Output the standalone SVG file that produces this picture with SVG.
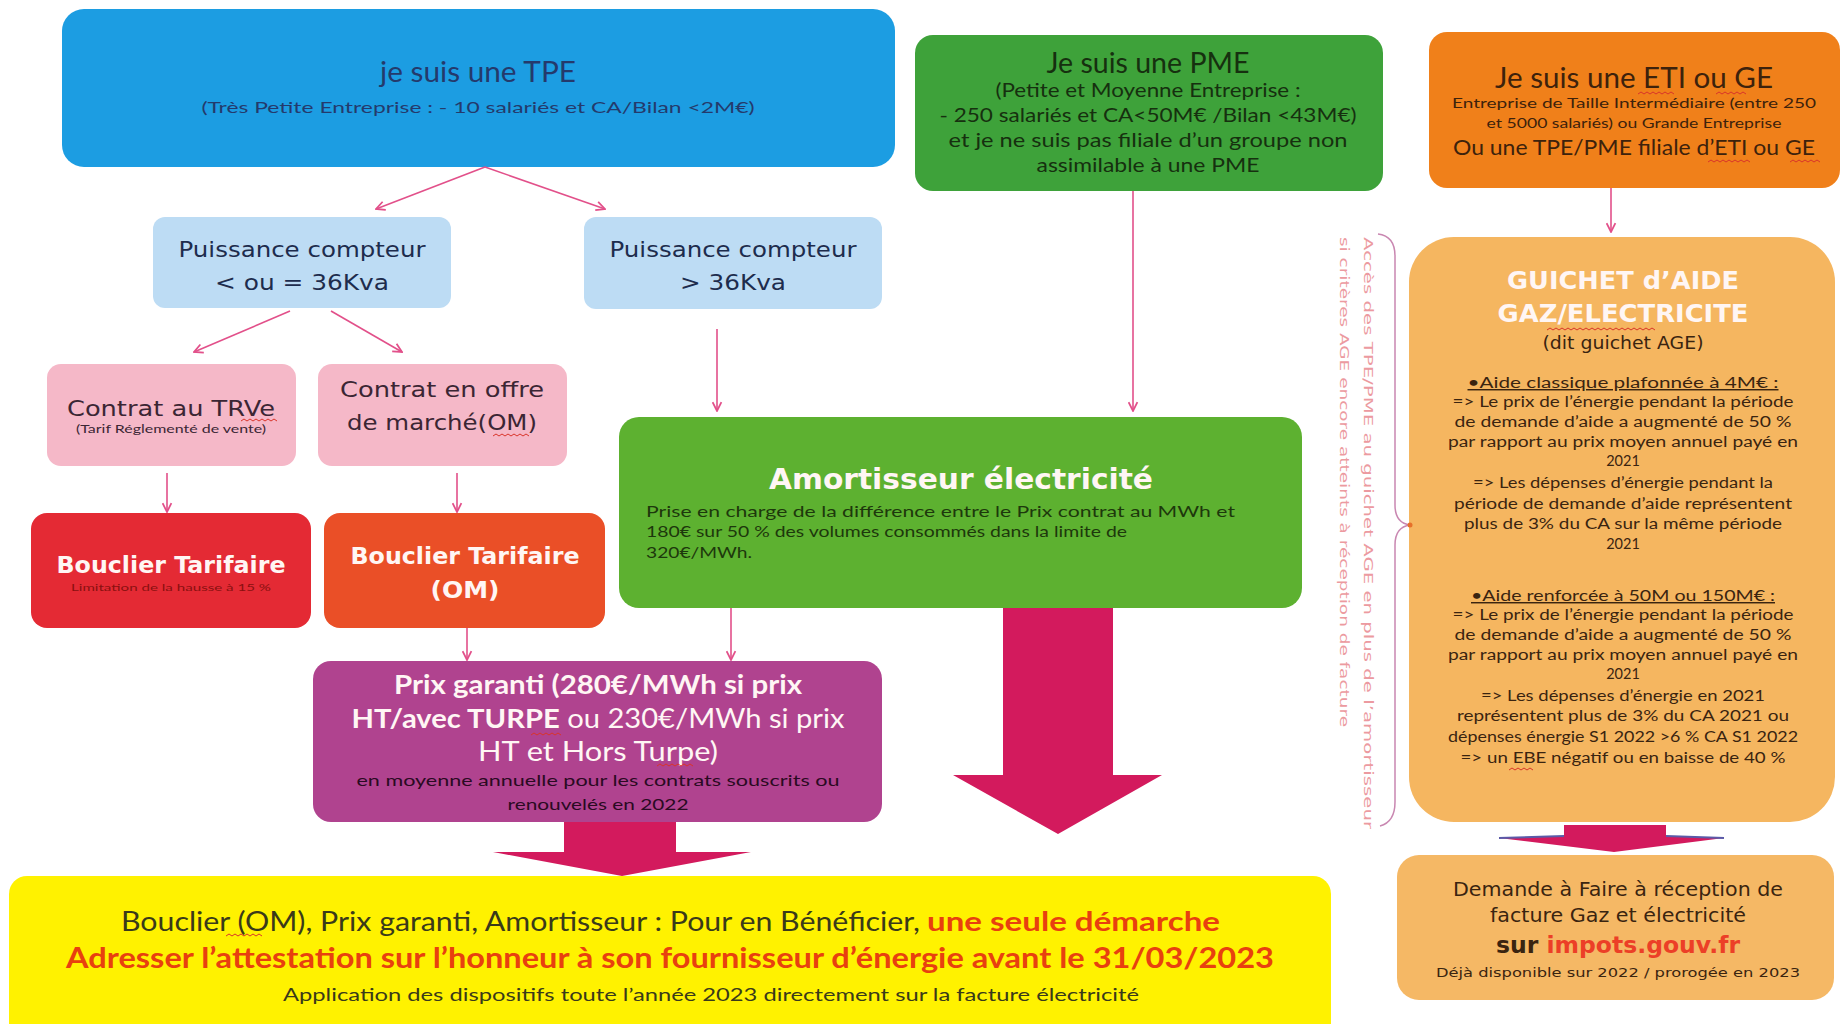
<svg xmlns="http://www.w3.org/2000/svg" width="1841" height="1024" viewBox="0 0 1841 1024">
<defs>
<style>
text{font-family:Lato,"Open Sans","Liberation Sans",sans-serif;}
.dv{font-family:"DejaVu Sans","Open Sans",sans-serif;}
.os{font-family:"Open Sans",sans-serif;}
.c{text-anchor:middle;}
.b{font-weight:700;}
.w{fill:#fff6f4;}
.thin{stroke:#e2508a;stroke-width:1.6;fill:none;}
.big{fill:#d31a5d;}
.sq{stroke:#d9342a;stroke-width:1;fill:none;}
</style>
<marker id="ah" viewBox="0 0 10 10" refX="9" refY="5" markerWidth="11" markerHeight="11" markerUnits="userSpaceOnUse" orient="auto">
<path d="M1,1 L9,5 L1,9" fill="none" stroke="#e2508a" stroke-width="1.6"/>
</marker>
</defs>
<rect width="1841" height="1024" fill="#ffffff"/>

<g id="tpe">
<rect x="62" y="9" width="833" height="158" rx="22" fill="#1c9de2"/>
<text x="478" y="82" class="c" font-size="29" fill="#243a6c" textLength="196" lengthAdjust="spacingAndGlyphs">je suis une TPE</text>
<text x="478" y="113" class="c" font-size="16" fill="#243a6c" textLength="553" lengthAdjust="spacingAndGlyphs">(Très Petite Entreprise : - 10 salariés et CA/Bilan &lt;2M€)</text>
</g>

<g id="pme">
<rect x="915" y="35" width="468" height="156" rx="18" fill="#3ea23a"/>
<text x="1148" y="73" class="c" font-size="28" fill="#16300f" textLength="203" lengthAdjust="spacingAndGlyphs">Je suis une PME</text>
<g class="c" font-size="19" fill="#16300f">
<text x="1148" y="97" textLength="305" lengthAdjust="spacingAndGlyphs">(Petite et Moyenne Entreprise :</text>
<text x="1148" y="122" textLength="417" lengthAdjust="spacingAndGlyphs">- 250 salariés et CA&lt;50M€ /Bilan &lt;43M€)</text>
<text x="1148" y="147" textLength="399" lengthAdjust="spacingAndGlyphs">et je ne suis pas filiale d’un groupe non</text>
<text x="1148" y="172" textLength="223" lengthAdjust="spacingAndGlyphs">assimilable à une PME</text>
</g>
</g>

<g id="eti">
<rect x="1429" y="32" width="411" height="156" rx="18" fill="#f0801a"/>
<text x="1634" y="88" class="c" font-size="29" fill="#3d220c" textLength="278" lengthAdjust="spacingAndGlyphs">Je suis une ETI ou GE</text>
<text x="1634" y="108" class="c" font-size="14" fill="#3d220c" textLength="364" lengthAdjust="spacingAndGlyphs">Entreprise de Taille Intermédiaire (entre 250</text>
<text x="1634" y="128" class="c" font-size="14" fill="#3d220c" textLength="295" lengthAdjust="spacingAndGlyphs">et 5000 salariés) ou Grande Entreprise</text>
<text x="1634" y="155" class="c" font-size="21" fill="#3d220c" textLength="362" lengthAdjust="spacingAndGlyphs">Ou  une TPE/PME filiale d’ETI ou GE</text>
<path class="sq" d="M1638,94 l3,-2 l3,2 l3,-2 l3,2 l3,-2 l3,2 l3,-2 l3,2 l3,-2 l3,2 l3,-2 l3,2 M1716,94 l3,-2 l3,2 l3,-2 l3,2 l3,-2 l3,2 l3,-2 l3,2 l3,-2 l3,2 M1708,162 l3,-2 l3,2 l3,-2 l3,2 l3,-2 l3,2 l3,-2 l3,2 l3,-2 l3,2 l3,-2 l3,2 l3,-2 l3,2 M1790,162 l3,-2 l3,2 l3,-2 l3,2 l3,-2 l3,2 l3,-2 l3,2 l3,-2 l3,2"/>
</g>

<g id="p1">
<rect x="153" y="217" width="298" height="91" rx="12" fill="#bddcf4"/>
<text x="302" y="257" class="c dv" font-size="21" fill="#1d2c4d" textLength="247" lengthAdjust="spacingAndGlyphs">Puissance compteur</text>
<text x="302" y="290" class="c dv" font-size="21" fill="#1d2c4d" textLength="174" lengthAdjust="spacingAndGlyphs">&lt; ou = 36Kva</text>
</g>

<g id="p2">
<rect x="584" y="217" width="298" height="92" rx="12" fill="#bddcf4"/>
<text x="733" y="257" class="c dv" font-size="21" fill="#1d2c4d" textLength="247" lengthAdjust="spacingAndGlyphs">Puissance compteur</text>
<text x="733" y="290" class="c dv" font-size="21" fill="#1d2c4d" textLength="106" lengthAdjust="spacingAndGlyphs">&gt; 36Kva</text>
</g>

<g id="c1">
<rect x="47" y="364" width="249" height="102" rx="14" fill="#f5b8c8"/>
<text x="171" y="416" class="c dv" font-size="21" fill="#3b2634" textLength="208" lengthAdjust="spacingAndGlyphs">Contrat au TRVe</text>
<text x="171" y="433" class="c" font-size="11" fill="#3b2634" textLength="190" lengthAdjust="spacingAndGlyphs">(Tarif Réglementé de vente)</text>
<path class="sq" d="M241,421 l3,-2 l3,2 l3,-2 l3,2 l3,-2 l3,2 l3,-2 l3,2 l3,-2 l3,2 l3,-2 l3,2"/>
</g>

<g id="c2">
<rect x="318" y="364" width="249" height="102" rx="14" fill="#f5b8c8"/>
<text x="442" y="397" class="c dv" font-size="21" fill="#3b2634" textLength="204" lengthAdjust="spacingAndGlyphs">Contrat en offre</text>
<text x="442" y="430" class="c dv" font-size="21" fill="#3b2634" textLength="190" lengthAdjust="spacingAndGlyphs">de marché(OM)</text>
<path class="sq" d="M493,436 l3,-2 l3,2 l3,-2 l3,2 l3,-2 l3,2 l3,-2 l3,2 l3,-2 l3,2 l3,-2 l3,2"/>
</g>

<g id="b1">
<rect x="31" y="513" width="280" height="115" rx="16" fill="#e42a34"/>
<text x="171" y="573" class="c b w dv" font-size="23" textLength="229" lengthAdjust="spacingAndGlyphs">Bouclier Tarifaire</text>
<text x="171" y="591" class="c" font-size="10" fill="#8a1010" textLength="200" lengthAdjust="spacingAndGlyphs">Limitation de la hausse à 15 %</text>
</g>

<g id="b2">
<rect x="324" y="513" width="281" height="115" rx="16" fill="#ea4f27"/>
<text x="465" y="564" class="c b w dv" font-size="23" textLength="229" lengthAdjust="spacingAndGlyphs">Bouclier Tarifaire</text>
<text x="465" y="598" class="c b w dv" font-size="23" textLength="69" lengthAdjust="spacingAndGlyphs">(OM)</text>
</g>

<g id="amortisseur">
<rect x="619" y="417" width="683" height="191" rx="20" fill="#5db130"/>
<text x="961" y="489" class="c b w dv" font-size="28" textLength="384" lengthAdjust="spacingAndGlyphs">Amortisseur électricité</text>
<g font-size="16" fill="#1d380c">
<text x="646" y="517" textLength="589" lengthAdjust="spacingAndGlyphs">Prise en charge de la différence entre le Prix contrat au MWh et</text>
<text x="646" y="537" textLength="481" lengthAdjust="spacingAndGlyphs">180€ sur 50 % des volumes consommés dans la limite de</text>
<text x="646" y="558" textLength="106" lengthAdjust="spacingAndGlyphs">320€/MWh.</text>
</g>
</g>

<g id="prix">
<rect x="313" y="661" width="569" height="161" rx="18" fill="#b0438f"/>
<text x="598" y="694" class="c b w" font-size="26" textLength="408" lengthAdjust="spacingAndGlyphs">Prix garanti (280€/MWh si prix</text>
<text x="598" y="728" class="c w" font-size="26" textLength="493" lengthAdjust="spacingAndGlyphs"><tspan class="b">HT/avec TURPE</tspan> ou 230€/MWh si prix</text>
<text x="598" y="761" class="c w" font-size="26" textLength="240" lengthAdjust="spacingAndGlyphs">HT et Hors Turpe)</text>
<text x="598" y="786" class="c" font-size="16" fill="#2a0a22" textLength="483" lengthAdjust="spacingAndGlyphs">en moyenne annuelle pour les contrats souscrits ou</text>
<text x="598" y="810" class="c" font-size="16" fill="#2a0a22" textLength="181" lengthAdjust="spacingAndGlyphs">renouvelés en 2022</text>
<path class="sq" d="M531,735 l3,-2 l3,2 l3,-2 l3,2 l3,-2 l3,2 l3,-2 l3,2 l3,-2 l3,2 M657,766 l3,-2 l3,2 l3,-2 l3,2 l3,-2 l3,2 l3,-2 l3,2 l3,-2 l3,2 l3,-2 l3,2"/>
</g>

<g id="attestation">
<rect x="9" y="876" width="1322" height="170" rx="18" fill="#fff200"/>
<text x="121" y="931" font-size="26" fill="#3a3a1a"><tspan textLength="799" lengthAdjust="spacingAndGlyphs">Bouclier (OM), Prix garanti, Amortisseur : Pour en Bénéficier,</tspan><tspan x="927" fill="#e8400f" font-weight="700" textLength="293" lengthAdjust="spacingAndGlyphs">une seule démarche</tspan></text>
<text x="66" y="968" font-size="28" font-weight="700" fill="#e8400f" textLength="1208" lengthAdjust="spacingAndGlyphs">Adresser l’attestation sur l’honneur à son fournisseur d’énergie avant le 31/03/2023</text>
<text x="283" y="1001" font-size="18" fill="#3a3a1a" textLength="856" lengthAdjust="spacingAndGlyphs">Application des dispositifs toute l’année 2023 directement sur la facture électricité</text>
<path class="sq" d="M226,936 l3,-2 l3,2 l3,-2 l3,2 l3,-2 l3,2 l3,-2 l3,2 l3,-2 l3,2 l3,-2 l3,2"/>
</g>

<g id="guichet">
<rect x="1409" y="237" width="426" height="585" rx="45" fill="#f5b660"/>
<text x="1623" y="289" class="c b w dv" font-size="24" textLength="232" lengthAdjust="spacingAndGlyphs">GUICHET d’AIDE</text>
<text x="1623" y="322" class="c b w dv" font-size="24" textLength="251" lengthAdjust="spacingAndGlyphs">GAZ/ELECTRICITE</text>
<path class="sq" d="M1547,330 l3,-2 l3,2 l3,-2 l3,2 l3,-2 l3,2 l3,-2 l3,2 l3,-2 l3,2 l3,-2 l3,2 l3,-2 l3,2 l3,-2 l3,2 l3,-2 l3,2 l3,-2 l3,2 l3,-2 l3,2 l3,-2 l3,2 l3,-2 l3,2 l3,-2 l3,2 l3,-2 l3,2 l3,-2 l3,2 l3,-2 l3,2 l3,-2 l3,2"/>
<text x="1623" y="349" class="c dv" font-size="18" fill="#3a2410" textLength="161" lengthAdjust="spacingAndGlyphs">(dit guichet AGE)</text>
<g class="c dv" font-size="14.5" fill="#3a2410">
<text x="1623" y="388" text-decoration="underline" textLength="311" lengthAdjust="spacingAndGlyphs">•Aide classique plafonnée à 4M€ :</text>
<text x="1623" y="407" textLength="341" lengthAdjust="spacingAndGlyphs">=&gt; Le prix de l’énergie pendant la période</text>
<text x="1623" y="427" textLength="337" lengthAdjust="spacingAndGlyphs">de demande d’aide a augmenté de 50 %</text>
<text x="1623" y="447" textLength="350" lengthAdjust="spacingAndGlyphs">par rapport au prix moyen annuel payé en</text>
<text x="1623" y="466">2021</text>
<text x="1623" y="488" textLength="300" lengthAdjust="spacingAndGlyphs">=&gt; Les dépenses d’énergie pendant la</text>
<text x="1623" y="509" textLength="338" lengthAdjust="spacingAndGlyphs">période de demande d’aide représentent</text>
<text x="1623" y="529" textLength="318" lengthAdjust="spacingAndGlyphs">plus de 3% du CA sur la même période</text>
<text x="1623" y="549">2021</text>
<text x="1623" y="601" text-decoration="underline" textLength="304" lengthAdjust="spacingAndGlyphs">•Aide renforcée à 50M ou 150M€ :</text>
<text x="1623" y="620" textLength="341" lengthAdjust="spacingAndGlyphs">=&gt; Le prix de l’énergie pendant la période</text>
<text x="1623" y="640" textLength="337" lengthAdjust="spacingAndGlyphs">de demande d’aide a augmenté de 50 %</text>
<text x="1623" y="660" textLength="350" lengthAdjust="spacingAndGlyphs">par rapport au prix moyen annuel payé en</text>
<text x="1623" y="679">2021</text>
<text x="1623" y="701" textLength="284" lengthAdjust="spacingAndGlyphs">=&gt; Les dépenses d’énergie en 2021</text>
<text x="1623" y="721" textLength="332" lengthAdjust="spacingAndGlyphs">représentent plus de 3% du CA 2021 ou</text>
<text x="1623" y="742" textLength="350" lengthAdjust="spacingAndGlyphs">dépenses énergie S1 2022 &gt;6 % CA S1 2022</text>
<text x="1623" y="763" textLength="325" lengthAdjust="spacingAndGlyphs">=&gt; un EBE négatif ou en baisse de 40 %</text>
</g>
<path class="sq" d="M1509,770 l3,-2 l3,2 l3,-2 l3,2 l3,-2 l3,2 l3,-2 l3,2"/>
</g>

<g id="demande">
<rect x="1397" y="855" width="437" height="145" rx="22" fill="#f5b865"/>
<text x="1618" y="896" class="c dv" font-size="19" fill="#3a2410" textLength="330" lengthAdjust="spacingAndGlyphs">Demande à Faire à réception de</text>
<text x="1618" y="922" class="c dv" font-size="19" fill="#3a2410" textLength="256" lengthAdjust="spacingAndGlyphs">facture Gaz et électricité</text>
<text x="1618" y="953" class="c b dv" font-size="23" fill="#3a2410" textLength="244" lengthAdjust="spacingAndGlyphs">sur <tspan fill="#ec3f27">impots.gouv.fr</tspan></text>
<text x="1618" y="977" class="c dv" font-size="13" fill="#3a2410" textLength="364" lengthAdjust="spacingAndGlyphs">Déjà disponible sur 2022 / prorogée en 2023</text>
</g>

<g id="note">
<g transform="translate(1364,237) rotate(90)">
<text x="0" y="0" class="dv" font-size="13" fill="#ec9aa0" textLength="592" lengthAdjust="spacingAndGlyphs">Accès des TPE/PME au guichet AGE en plus de l’amortisseur</text>
</g>
<g transform="translate(1340,237) rotate(90)">
<text x="0" y="0" class="dv" font-size="13" fill="#ec9aa0" textLength="490" lengthAdjust="spacingAndGlyphs">si critères AGE encore atteints à réception de facture</text>
</g>
<path d="M1378,234 Q1395,236 1395,256 L1395,505 Q1395,523 1410,525 Q1395,527 1395,545 L1395,802 Q1395,822 1380,826" fill="none" stroke="#c987b1" stroke-width="1.5"/>
<circle cx="1410" cy="525" r="2.5" fill="#e7702a"/>
</g>

<g id="connectors">
<line class="thin" x1="485" y1="167" x2="376" y2="209" marker-end="url(#ah)"/>
<line class="thin" x1="485" y1="167" x2="605" y2="209" marker-end="url(#ah)"/>
<line class="thin" x1="290" y1="311" x2="194" y2="352" marker-end="url(#ah)"/>
<line class="thin" x1="331" y1="311" x2="402" y2="352" marker-end="url(#ah)"/>
<line class="thin" x1="717" y1="329" x2="717" y2="411" marker-end="url(#ah)"/>
<line class="thin" x1="1133" y1="191" x2="1133" y2="411" marker-end="url(#ah)"/>
<line class="thin" x1="1611" y1="188" x2="1611" y2="232" marker-end="url(#ah)"/>
<line class="thin" x1="167" y1="473" x2="167" y2="512" marker-end="url(#ah)"/>
<line class="thin" x1="457" y1="473" x2="457" y2="512" marker-end="url(#ah)"/>
<line class="thin" x1="467" y1="628" x2="467" y2="660" marker-end="url(#ah)"/>
<line class="thin" x1="731" y1="608" x2="731" y2="660" marker-end="url(#ah)"/>
<polygon class="big" points="1003,608 1113,608 1113,775 1162,775 1058,834 953,775 1003,775"/>
<polygon class="big" points="564,822 676,822 676,852 751,852 622,876 493,852 564,852"/>
<polygon class="big" points="1564,825 1666,825 1666,836 1724,838 1614,852 1499,838 1564,836"/>
<path d="M1499,838 L1564,836 M1666,836 L1724,838" stroke="#5a5aa8" stroke-width="2" fill="none"/>
</g>
</svg>
